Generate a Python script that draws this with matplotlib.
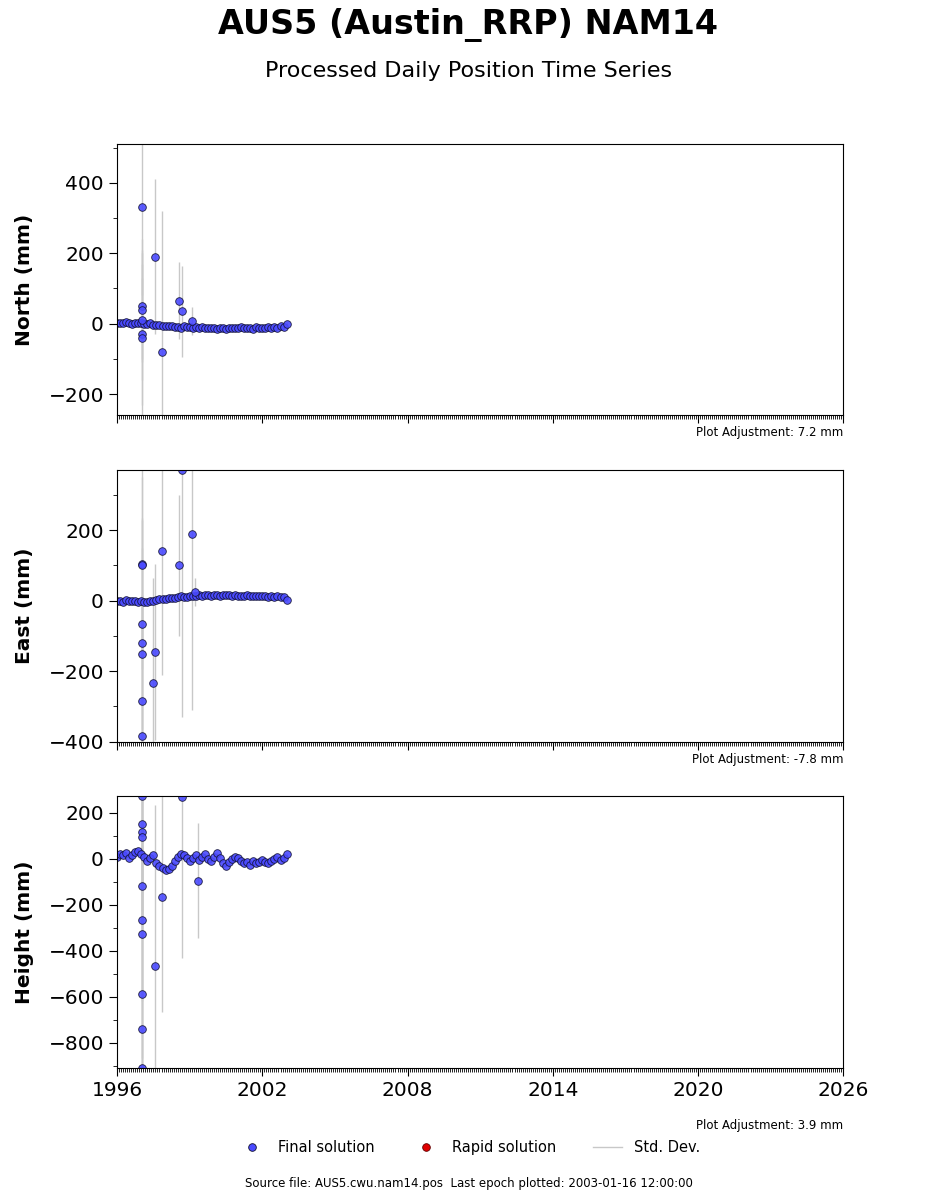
import numpy as np
import matplotlib
matplotlib.use('Agg')
import matplotlib.pyplot as plt
from matplotlib.ticker import MultipleLocator, FixedLocator

# --- data (decimal years, mm) ---
base_t = [1996 + i * 0.125 for i in range(57)]

north_base = [2, 3, 1, 4, 2, 0, 3, 1,
              2, -2, 0, 1, -3, -4, -5, -6,
              -7, -8, -6, -9, -10, -12, -8, -9,
              -10, -11, -9, -12, -10, -13, -11, -12,
              -12, -14, -11, -13, -15, -12, -13, -11,
              -12, -10, -13, -11, -12, -14, -10, -12,
              -11, -13, -10, -12, -9, -11, -8, -10, -2]
east_base = [-2, 0, -3, 1, -1, -2, 0, -3,
             -2, -4, -3, -1, 0, 2, 4, 5,
             6, 8, 7, 9, 10, 12, 11, 10,
             12, 14, 13, 15, 14, 16, 15, 14,
             15, 16, 14, 17, 15, 16, 14, 15,
             13, 14, 12, 15, 13, 14, 12, 13,
             12, 13, 11, 12, 10, 12, 11, 10, 2]
height_base = [10, 20, 15, 25, 5, 15, 30, 35,
               20, 10, -10, 5, 15, -20, -30, -40,
               -50, -45, -30, -10, 10, 20, 15, 5,
               -10, 5, 15, -5, 10, 20, 0, -10,
               10, 25, 5, -20, -30, -15, 0, 10,
               5, -10, -20, -15, -25, -10, -20, -15,
               -5, -15, -20, -10, 0, 10, -5, 5, 20]
base_sig = 6

north_out_t = [1997.03, 1997.03, 1997.03, 1997.03, 1997.03, 1997.03, 1997.57, 1997.86, 1998.56, 1998.68, 1999.1]
north_out = [330, 50, 40, -30, -40, 10, 190, -80, 65, 35, 8]
north_out_sig = [250, 150, 200, 200, 250, 120, 220, 400, 110, 130, 40]

east_out_t = [1997.03, 1997.03, 1997.03, 1997.03, 1997.03, 1997.03, 1997.03, 1997.57, 1997.5, 1997.86, 1998.56, 1998.68, 1999.1, 1999.2]
east_out = [105, 100, -65, -120, -150, -285, -385, -145, -235, 140, 100, 370, 190, 25]
east_out_sig = [300, 250, 300, 350, 300, 300, 400, 250, 300, 350, 200, 700, 500, 40]

height_out_t = [1997.03, 1997.03, 1997.03, 1997.03, 1997.03, 1997.03, 1997.03, 1997.03, 1997.03, 1997.03, 1997.57, 1997.86, 1998.68, 1999.35]
height_out = [275, 150, 115, 95, -120, -265, -325, -590, -740, -910, -465, -165, 270, -95]
height_out_sig = [500, 400, 400, 400, 500, 600, 600, 700, 800, 900, 700, 500, 700, 250]

year_ticks = [1996, 2002, 2008, 2014, 2020, 2026]

panels = [
    ('North (mm)', north_base, north_out_t, north_out, north_out_sig, (-260, 510), 'Plot Adjustment: 7.2 mm'),
    ('East (mm)', east_base, east_out_t, east_out, east_out_sig, (-400, 370), 'Plot Adjustment: -7.8 mm'),
    ('Height (mm)', height_base, height_out_t, height_out, height_out_sig, (-910, 275), 'Plot Adjustment: 3.9 mm'),
]

fig = plt.figure(figsize=(9.37, 12), dpi=100)
fig.text(0.5, 0.979, 'AUS5 (Austin_RRP) NAM14', ha='center', va='center', fontsize=24, fontweight='bold')
fig.text(0.5, 0.941, 'Processed Daily Position Time Series', ha='center', va='center', fontsize=16)

boxes = [(0.654, 0.226), (0.382, 0.226), (0.11, 0.227)]
axes = []
for (label, base, ot, ov, osig, ylim, adj), (b, h) in zip(panels, boxes):
    ax = fig.add_axes([0.125, b, 0.775, h])
    t = np.array(base_t + ot)
    v = np.array(base + ov)
    s = np.array([base_sig] * len(base) + osig)
    ax.vlines(t, v - s, v + s, color='#c8c8c8', lw=1, zorder=1)
    ax.plot(t, v, 'o', ms=5.5, mfc='#4a4aff', mec='#101030', mew=0.6, alpha=0.9, zorder=2)
    ax.set_xlim(1996, 2026)
    ax.set_ylim(*ylim)
    ax.xaxis.set_major_locator(FixedLocator(year_ticks))
    ax.xaxis.set_minor_locator(MultipleLocator(1 / 12))
    ax.yaxis.set_major_locator(MultipleLocator(200))
    ax.yaxis.set_minor_locator(MultipleLocator(100))
    ax.tick_params(axis='both', which='major', labelsize=14.5, length=6)
    ax.tick_params(axis='both', which='minor', length=3)
    if label != 'Height (mm)':
        ax.set_xticklabels([])
    ax.set_ylabel(label, fontsize=14.5, fontweight='bold')
    ax.text(1.0, -0.065 if label != 'Height (mm)' else -0.21, adj, transform=ax.transAxes,
            ha='right', va='center', fontsize=8.5)
    axes.append(ax)
for ax in axes:
    ax.yaxis.set_label_coords(-0.115, 0.5)

h1, = plt.plot([], [], 'o', ms=5.5, mfc='#4a4aff', mec='#101030', mew=0.6)
h2, = plt.plot([], [], 'o', ms=5.5, mfc='#e00000', mec='#600000', mew=0.6)
h3, = plt.plot([], [], '-', color='#c8c8c8', lw=1)
fig.legend([h1, h2, h3], ['Final solution', 'Rapid solution', 'Std. Dev.'],
           loc='center', bbox_to_anchor=(0.5, 0.044), ncol=3, frameon=False, fontsize=10.5,
           columnspacing=2.5)
fig.text(0.5, 0.014, 'Source file: AUS5.cwu.nam14.pos  Last epoch plotted: 2003-01-16 12:00:00',
         ha='center', va='center', fontsize=8.5)

fig.savefig('out.png', dpi=100)
